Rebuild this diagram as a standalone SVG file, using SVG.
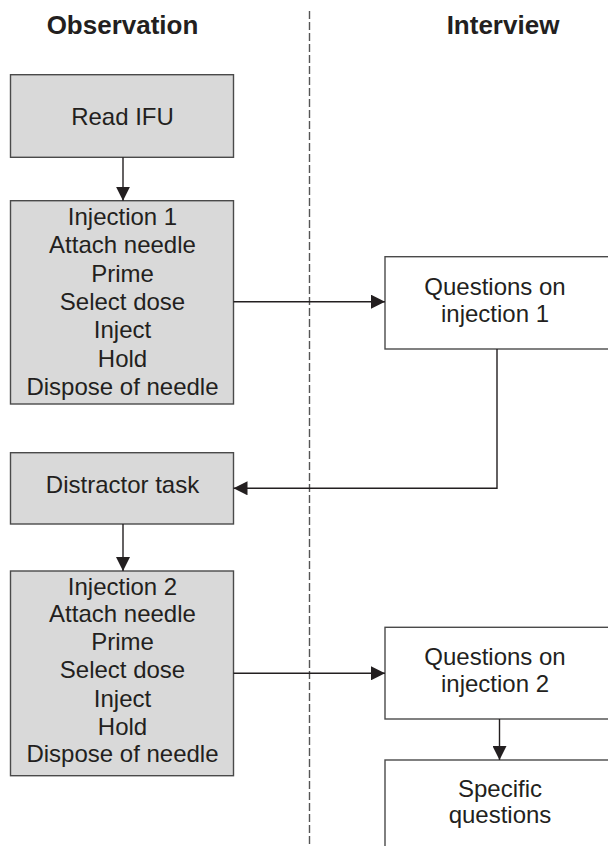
<svg xmlns="http://www.w3.org/2000/svg" width="608" height="846" viewBox="0 0 608 846">
<defs>
<style>
.box{stroke:#4a4a4a;stroke-width:1.4}
.obs{fill:#d9d9d9}
.int{fill:#ffffff}
.t{font-family:"Liberation Sans",Arial,Helvetica,sans-serif;font-size:24px;fill:#231f20;text-anchor:middle}
.h{font-family:"Liberation Sans",Arial,Helvetica,sans-serif;font-size:26px;font-weight:bold;fill:#231f20;text-anchor:middle}
.c{fill:none;stroke:#231f20;stroke-width:1.4}
</style>
<marker id="ah" viewBox="0 0 14 14" refX="14" refY="7" markerWidth="14" markerHeight="14" markerUnits="userSpaceOnUse" orient="auto">
<path d="M0,0 L14,7 L0,14 Z" fill="#231f20"/>
</marker>
</defs>
<rect width="608" height="846" fill="#ffffff"/>
<line x1="309.5" y1="11" x2="309.5" y2="846" stroke="#555" stroke-width="1.4" stroke-dasharray="8,3"/>
<text class="h" x="122.5" y="33.5">Observation</text>
<text class="h" x="503" y="33.5">Interview</text>

<g id="read-ifu">
<rect class="box obs" x="10.5" y="74.7" width="223" height="82.6"/>
<text class="t" x="122.5" y="125">Read IFU</text>
</g>
<g id="injection-1">
<rect class="box obs" x="10.5" y="200.7" width="223" height="203.3"/>
<text class="t" x="122.5" y="225">Injection 1</text>
<text class="t" x="122.5" y="253.3">Attach needle</text>
<text class="t" x="122.5" y="281.7">Prime</text>
<text class="t" x="122.5" y="310">Select dose</text>
<text class="t" x="122.5" y="338.3">Inject</text>
<text class="t" x="122.5" y="366.7">Hold</text>
<text class="t" x="122.5" y="395">Dispose of needle</text>
</g>
<g id="questions-1">
<rect class="box int" x="385" y="256.7" width="240" height="92.3"/>
<text class="t" x="495" y="295">Questions on</text>
<text class="t" x="495" y="321.7">injection 1</text>
</g>
<g id="distractor">
<rect class="box obs" x="10.5" y="452.7" width="223" height="71.3"/>
<text class="t" x="122.5" y="493.3">Distractor task</text>
</g>
<g id="injection-2">
<rect class="box obs" x="10.5" y="571" width="223" height="204.7"/>
<text class="t" x="122.5" y="594.5">Injection 2</text>
<text class="t" x="122.5" y="622">Attach needle</text>
<text class="t" x="122.5" y="650">Prime</text>
<text class="t" x="122.5" y="678.3">Select dose</text>
<text class="t" x="122.5" y="706.7">Inject</text>
<text class="t" x="122.5" y="734.5">Hold</text>
<text class="t" x="122.5" y="762">Dispose of needle</text>
</g>
<g id="questions-2">
<rect class="box int" x="385" y="627.3" width="240" height="91.7"/>
<text class="t" x="495" y="665">Questions on</text>
<text class="t" x="495" y="691.7">injection 2</text>
</g>
<g id="specific">
<rect class="box int" x="385" y="760" width="240" height="120"/>
<text class="t" x="500" y="796.7">Specific</text>
<text class="t" x="500" y="823.3">questions</text>
</g>

<g id="connectors">
<line class="c" x1="123" y1="157.3" x2="123" y2="200.7" marker-end="url(#ah)"/>
<line class="c" x1="233.5" y1="301.7" x2="385" y2="301.7" marker-end="url(#ah)"/>
<polyline class="c" points="497,349 497,488.3 233.5,488.3" marker-end="url(#ah)"/>
<line class="c" x1="123" y1="524" x2="123" y2="571" marker-end="url(#ah)"/>
<line class="c" x1="233.5" y1="673.3" x2="385" y2="673.3" marker-end="url(#ah)"/>
<line class="c" x1="499.5" y1="719" x2="499.5" y2="760" marker-end="url(#ah)"/>
</g>
</svg>
